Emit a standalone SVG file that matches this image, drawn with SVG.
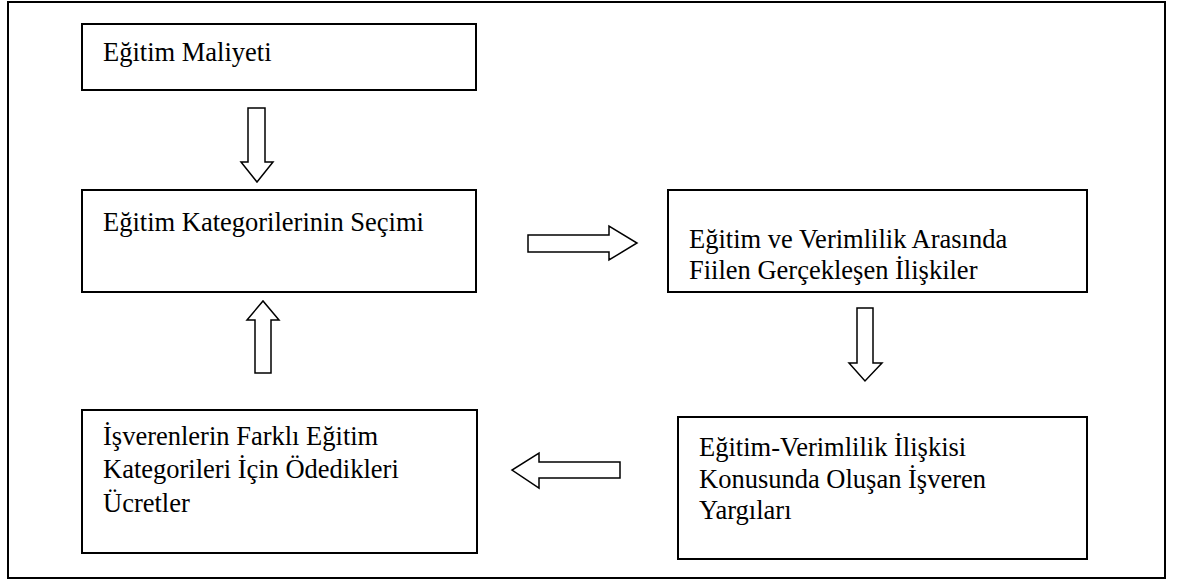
<svg xmlns="http://www.w3.org/2000/svg" width="1181" height="583" viewBox="0 0 1181 583">
<style>
.frame{fill:none;stroke:#000;stroke-width:2}
.box{fill:#fff;stroke:#000;stroke-width:2}
.arr{fill:#fff;stroke:#000;stroke-width:1.5;stroke-linejoin:miter}
text{font-family:"Liberation Serif","Times New Roman",serif;font-size:26.5px;fill:#000}
</style>
<rect width="1181" height="583" fill="#fff"/>
<rect class="frame" x="8" y="2" width="1157" height="576"/>
<g id="n1"><rect class="box" x="82" y="24" width="394" height="66"/><text x="103" y="61">Eğitim Maliyeti</text></g>
<g id="n2"><rect class="box" x="82" y="190" width="394" height="102"/><text x="103" y="231">Eğitim Kategorilerinin Seçimi</text></g>
<g id="n3"><rect class="box" x="668" y="190" width="419" height="102"/><text x="689" y="248">Eğitim ve Verimlilik Arasında</text><text x="689" y="279">Fiilen Gerçekleşen İlişkiler</text></g>
<g id="n4"><rect class="box" x="82" y="410" width="395" height="143"/><text x="103" y="445">İşverenlerin Farklı Eğitim</text><text x="103" y="478">Kategorileri İçin Ödedikleri</text><text x="103" y="512">Ücretler</text></g>
<g id="n5"><rect class="box" x="678" y="417" width="409" height="142"/><text x="699" y="456">Eğitim-Verimlilik İlişkisi</text><text x="699" y="488">Konusunda Oluşan İşveren</text><text x="699" y="519">Yargıları</text></g>
<g id="connectors">
<polygon class="arr" points="248,108 265,108 265,162 273,162 257,182 241,162 248,162"/>
<polygon class="arr" points="528,235 609,235 609,226 637,243 609,260 609,252 528,252"/>
<polygon class="arr" points="857,308 873,308 873,363 882,363 865,381 849,363 857,363"/>
<polygon class="arr" points="620,462 620,478 539,478 539,488 512,470 539,453 539,462"/>
<polygon class="arr" points="255,373 271,373 271,320 279,320 263,301 247,320 255,320"/>
</g>
</svg>
